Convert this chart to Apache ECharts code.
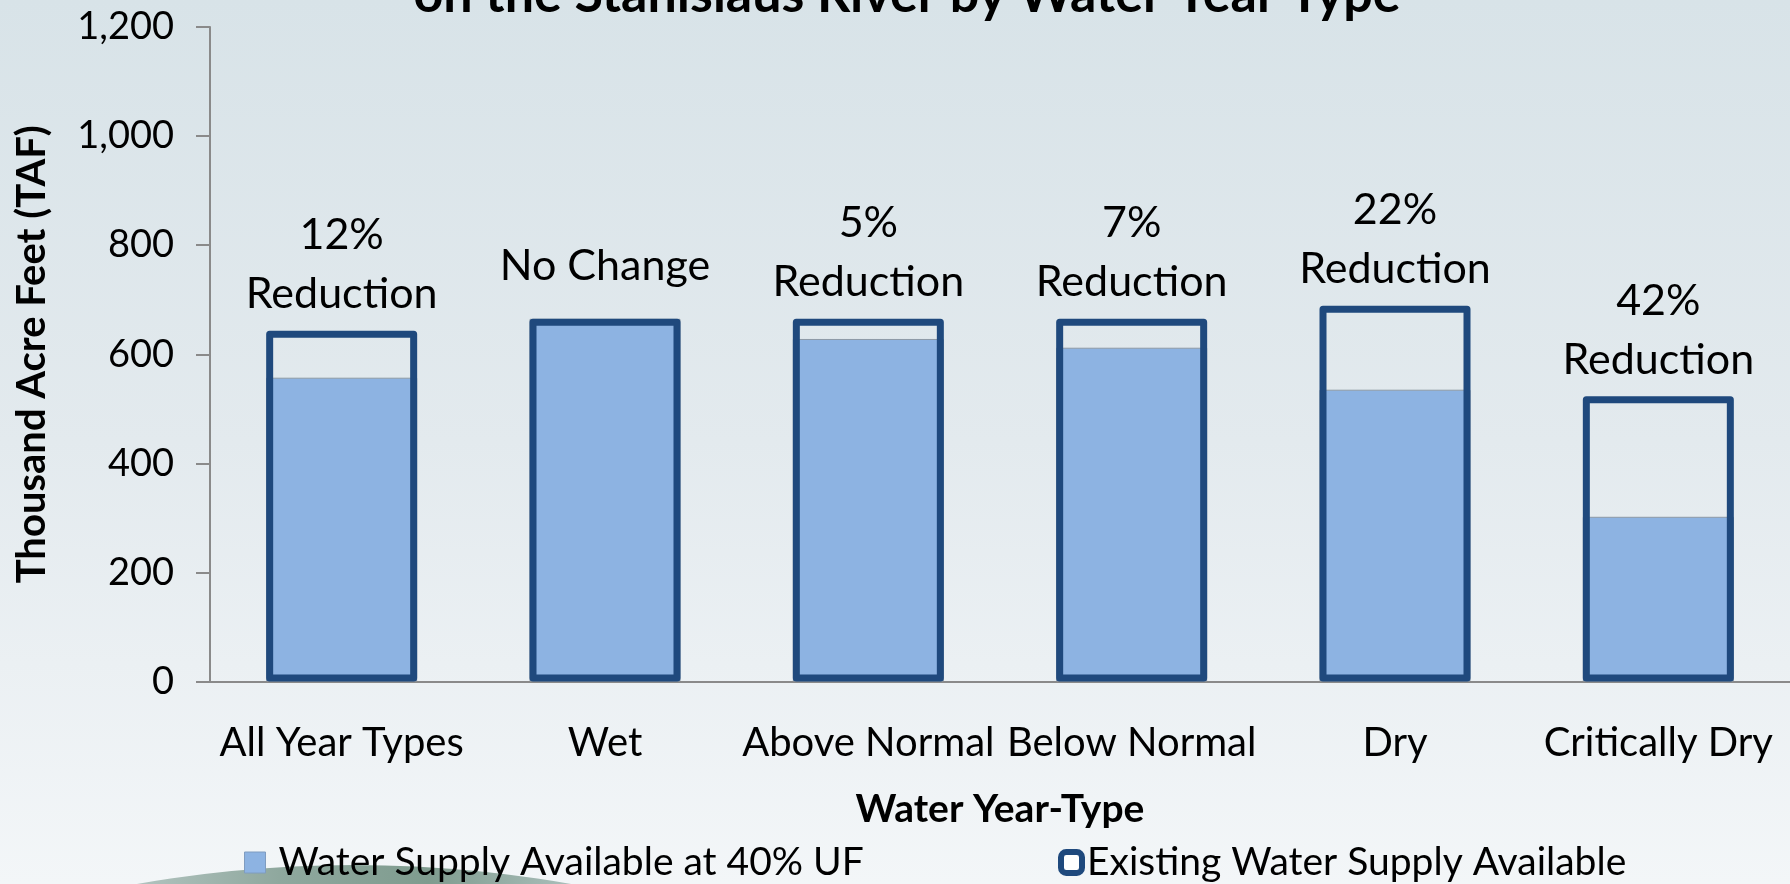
<!DOCTYPE html>
<html>
<head>
<meta charset="utf-8">
<script src="https://cdn.jsdelivr.net/npm/echarts@6/dist/echarts.min.js"></script>
<style>
html,body{margin:0;padding:0;width:1790px;height:884px;overflow:hidden;}
#chart{width:1790px;height:884px;}
</style>
</head>
<body>
<div id="chart"></div>
<script>
// ---- data ----
const categories = ['All Year Types', 'Wet', 'Above Normal', 'Below Normal', 'Dry', 'Critically Dry'];
const existingSupply = [643, 665, 665, 665, 689, 523];
const supplyAt40UF = [557, 665, 628, 612, 535, 302];
const changeLabels = ['12%\nReduction', 'No Change', '5%\nReduction', '7%\nReduction', '22%\nReduction', '42%\nReduction'];
const seriesNames = ['Water Supply Available at 40% UF', 'Existing Water Supply Available'];
const titleText = 'on the Stanislaus River by Water Year Type';
const yAxisName = 'Thousand Acre Feet (TAF)';
const xAxisName = 'Water Year-Type';
const yMin = 0, yMax = 1200, yStep = 200;

const FONT = 'Lato, "Open Sans", sans-serif';
const DARK = '#1F497D';
const LIGHT = '#8DB3E2';

const labelStyle = {
  show: true,
  position: 'top',
  fontFamily: FONT,
  fontSize: 43,
  lineHeight: 59,
  color: '#000',
  align: 'center'
};

const existingData = existingSupply.map((v, i) => ({
  value: v,
  label: Object.assign({}, labelStyle, {
    formatter: changeLabels[i],
    distance: changeLabels[i].indexOf('\n') >= 0 ? 7 : 23
  })
}));

const chart = echarts.init(document.getElementById('chart'), null, {renderer: 'canvas'});
chart.setOption({
  animation: false,
  backgroundColor: {
    type: 'linear', x: 0, y: 0, x2: 0, y2: 1,
    colorStops: [
      {offset: 0, color: '#d8e3e8'},
      {offset: 0.5, color: '#e3eaee'},
      {offset: 1, color: '#f3f6f8'}
    ]
  },
  graphic: [{
    type: 'circle',
    z: -10,
    silent: true,
    shape: {cx: 354, cy: 2115, r: 1250},
    style: {
      fill: {
        type: 'linear', x: 0, y: 0, x2: 1, y2: 0,
        colorStops: [
          {offset: 0.40, color: '#b9c9c6'},
          {offset: 0.47, color: '#8fa89e'},
          {offset: 0.53, color: '#7f9c8f'},
          {offset: 0.60, color: '#b4c6c4'}
        ]
      }
    }
  }],
  title: {
    text: titleText,
    left: 907,
    textAlign: 'center',
    top: -31,
    padding: 0,
    textStyle: {fontFamily: FONT, fontSize: 52, fontWeight: 'bold', color: '#000'}
  },
  legend: [{
    left: 239, top: 838,
    itemWidth: 21, itemHeight: 21,
    data: [{name: seriesNames[0], icon: 'rect', itemStyle: {color: LIGHT, borderColor: '#7f9cc0', borderWidth: 1}}],
    textStyle: {fontFamily: FONT, fontSize: 39, color: '#000', padding: [0, 0, 0, 8]}
  }, {
    left: 1053, top: 838,
    itemWidth: 21, itemHeight: 21,
    data: [{name: seriesNames[1], icon: 'roundRect', itemStyle: {color: '#ffffff', borderColor: DARK, borderWidth: 6}}],
    textStyle: {fontFamily: FONT, fontSize: 39, color: '#000', padding: [0, 0, 0, 0]}
  }],
  grid: {left: 210, right: -5, top: 27, bottom: 202.5, containLabel: false},
  xAxis: {
    type: 'category',
    data: categories,
    name: xAxisName,
    nameLocation: 'middle',
    nameGap: 108,
    nameTextStyle: {fontFamily: FONT, fontSize: 39, fontWeight: 'bold', color: '#000'},
    axisLine: {show: true, lineStyle: {color: '#8a8a8a', width: 2}},
    axisTick: {show: false},
    axisLabel: {fontFamily: FONT, fontSize: 40, color: '#000', margin: 42, interval: 0},
    splitLine: {show: false}
  },
  yAxis: {
    type: 'value',
    min: yMin, max: yMax, interval: yStep,
    name: yAxisName,
    nameLocation: 'middle',
    nameGap: 158,
    nameRotate: 90,
    nameTextStyle: {fontFamily: FONT, fontSize: 40, fontWeight: 'bold', color: '#000'},
    axisLine: {show: true, lineStyle: {color: '#8a8a8a', width: 2}},
    axisTick: {show: true, inside: false, length: 14, lineStyle: {color: '#8a8a8a', width: 2}},
    axisLabel: {
      fontFamily: FONT, fontSize: 38, color: '#000', margin: 36,
      formatter: v => v.toLocaleString('en-US')
    },
    splitLine: {show: false}
  },
  series: [{
    name: seriesNames[0],
    type: 'bar',
    data: supplyAt40UF,
    barWidth: 151,
    barGap: '-100%',
    itemStyle: {color: LIGHT, borderColor: '#8e9aa6', borderWidth: 1},
    z: 2
  }, {
    name: seriesNames[1],
    type: 'bar',
    data: existingData,
    barWidth: 151,
    barGap: '-100%',
    itemStyle: {color: 'rgba(255,255,255,0)', borderColor: DARK, borderWidth: 7, borderJoin: 'round'},
    z: 3
  }]
});
</script>
</body>
</html>
